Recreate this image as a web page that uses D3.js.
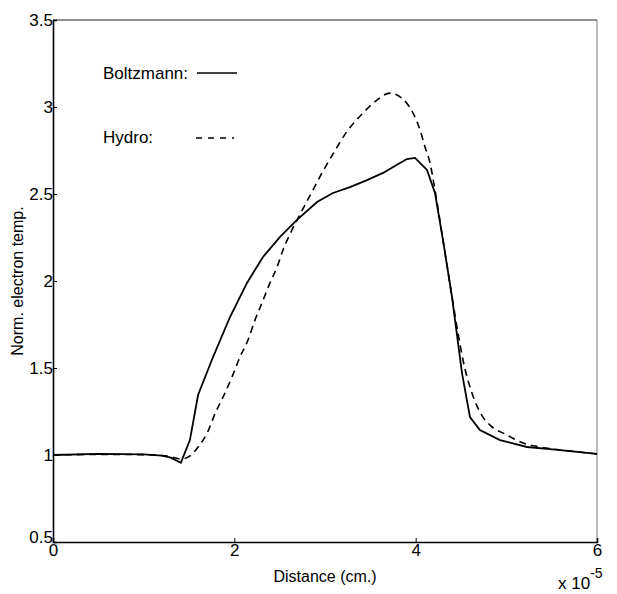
<!DOCTYPE html>
<html>
<head>
<meta charset="utf-8">
<script src="https://cdn.jsdelivr.net/npm/d3@7"></script>
<style>
  body { margin: 0; background: #fff; }
  svg { font-family: "Liberation Sans", Arial, sans-serif; }
</style>
</head>
<body>
<svg id="chart" width="617" height="594"></svg>
<script>
// distance in units of 1e-5 cm
const boltzX = [0, 0.5, 1.0, 1.2, 1.3, 1.41, 1.51, 1.60, 1.765, 1.952, 2.14, 2.316, 2.504, 2.691, 2.912, 3.088, 3.276, 3.463, 3.64, 3.827, 3.904, 3.993, 4.125, 4.213, 4.301, 4.401, 4.511, 4.599, 4.709, 4.93, 5.228, 5.481, 6.0];
const boltzY = [1.0, 1.006, 1.004, 0.996, 0.985, 0.955, 1.086, 1.345, 1.563, 1.793, 1.989, 2.138, 2.253, 2.351, 2.454, 2.506, 2.54, 2.58, 2.621, 2.678, 2.701, 2.707, 2.638, 2.506, 2.236, 1.908, 1.471, 1.218, 1.144, 1.086, 1.046, 1.034, 1.006];

const hydroX = [0, 0.5, 1.0, 1.2, 1.3, 1.41, 1.51, 1.60, 1.70, 1.79, 1.875, 1.974, 2.062, 2.151, 2.228, 2.305, 2.393, 2.471, 2.537, 2.614, 2.691, 2.834, 2.945, 3.088, 3.243, 3.419, 3.573, 3.717, 3.86, 3.97, 4.048, 4.103, 4.158, 4.213, 4.301, 4.401, 4.467, 4.522, 4.621, 4.742, 4.82, 5.007, 5.184, 5.371, 5.7, 6.0];
const hydroY = [1.0, 1.003, 1.002, 0.997, 0.99, 0.977, 0.994, 1.046, 1.126, 1.241, 1.333, 1.448, 1.563, 1.661, 1.776, 1.874, 1.989, 2.08, 2.178, 2.27, 2.35, 2.49, 2.6, 2.73, 2.86, 2.965, 3.04, 3.08, 3.045, 2.966, 2.868, 2.77, 2.678, 2.523, 2.236, 1.908, 1.701, 1.546, 1.356, 1.218, 1.172, 1.115, 1.069, 1.046, 1.023, 1.006];

const xTicks = [0, 2, 4, 6];
const yTicks = [0.5, 1, 1.5, 2, 2.5, 3, 3.5];

const margin = { top: 20, left: 53 };
const width = 544, height = 522;

const svg = d3.select("#chart");
const chart = svg.append("g")
    .attr("transform", `translate(${margin.left},${margin.top})`);

const xScale = d3.scaleLinear().domain([0, 6]).range([0, width]);
const yScale = d3.scaleLinear().domain([0.5, 3.5]).range([height, 0]);

// box: top and right edges
chart.append("line")
    .attr("x1", 0).attr("x2", width).attr("y1", 0).attr("y2", 0)
    .attr("stroke", "#222").attr("stroke-width", 1.2);
chart.append("line")
    .attr("x1", width).attr("x2", width).attr("y1", 0).attr("y2", height)
    .attr("stroke", "#777").attr("stroke-width", 1);

const xAxis = d3.axisBottom(xScale).tickValues(xTicks).tickSize(-4).tickPadding(2).tickFormat(d => d);
const yAxis = d3.axisLeft(yScale).tickValues(yTicks).tickSize(-4).tickPadding(0).tickFormat(d => d);

const xG = chart.append("g").attr("transform", `translate(0,${height})`).call(xAxis);
const yG = chart.append("g").call(yAxis);

[xG, yG].forEach(g => {
    g.select(".domain").attr("stroke", "#000").attr("stroke-width", 1.6);
    g.selectAll(".tick line").attr("stroke", "#000");
    g.selectAll("text").attr("font-size", 17).attr("font-family", "Liberation Sans, Arial, sans-serif").attr("fill", "#000");
});
xG.selectAll("text").attr("dy", "0.7em");
yG.selectAll("text").attr("dy", d => d === 0.5 ? "0em" : "0.3em");

const line = d3.line()
    .x(d => xScale(d[0]))
    .y(d => yScale(d[1]));

chart.append("path")
    .datum(d3.zip(boltzX, boltzY))
    .attr("fill", "none")
    .attr("stroke", "#000")
    .attr("stroke-width", 1.8)
    .attr("d", line);

chart.append("path")
    .datum(d3.zip(hydroX, hydroY))
    .attr("fill", "none")
    .attr("stroke", "#000")
    .attr("stroke-width", 1.6)
    .attr("stroke-dasharray", "7,5")
    .attr("d", line.curve(d3.curveMonotoneX));

// legend
svg.append("text").attr("x", 103).attr("y", 79).attr("font-size", 17).text("Boltzmann:");
svg.append("line").attr("x1", 197).attr("x2", 237).attr("y1", 73).attr("y2", 73)
    .attr("stroke", "#000").attr("stroke-width", 1.4);
svg.append("text").attr("x", 103).attr("y", 143).attr("font-size", 17).text("Hydro:");
svg.append("line").attr("x1", 196).attr("x2", 234).attr("y1", 138).attr("y2", 138)
    .attr("stroke", "#000").attr("stroke-width", 1.4).attr("stroke-dasharray", "6,6");

// axis titles
svg.append("text")
    .attr("x", 325).attr("y", 582)
    .attr("text-anchor", "middle")
    .attr("font-size", 16)
    .text("Distance (cm.)");

svg.append("text")
    .attr("transform", "translate(23,281) rotate(-90)")
    .attr("text-anchor", "middle")
    .attr("font-size", 16)
    .text("Norm. electron temp.");

const exp = svg.append("text").attr("x", 558).attr("y", 589).attr("font-size", 17);
exp.append("tspan").text("x 10");
exp.append("tspan").attr("dy", -11).attr("font-size", 14).text("-5");
</script>
</body>
</html>
